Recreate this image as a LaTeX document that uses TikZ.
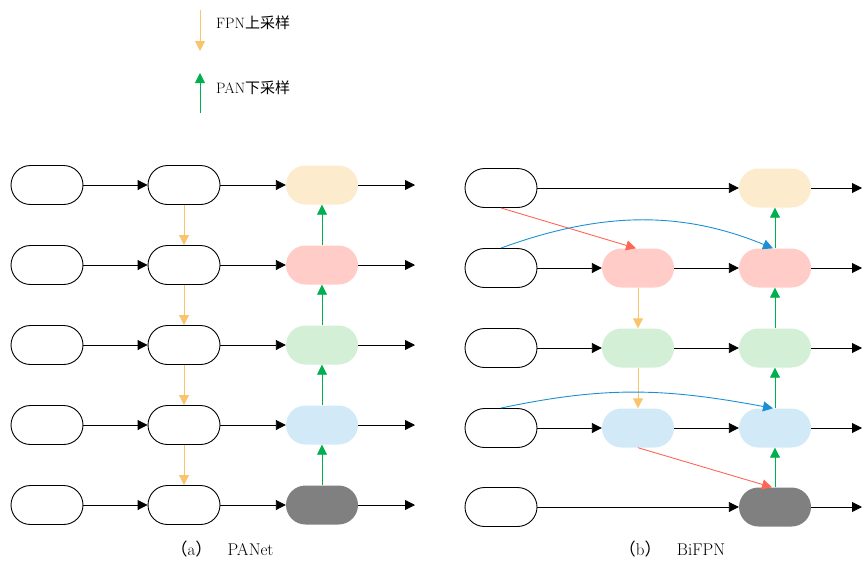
\documentclass[tikz,border=0pt]{standalone}
\usepackage{fontspec}
\newfontfamily\cjk{Noto Sans CJK SC}
\usetikzlibrary{arrows.meta}
\definecolor{cOr}{HTML}{FDEBCD}
\definecolor{cPk}{HTML}{FFCCC7}
\definecolor{cGn}{HTML}{D3EFD5}
\definecolor{cBl}{HTML}{D2EAF7}
\definecolor{cGy}{HTML}{808080}
\definecolor{aOr}{HTML}{F9C46B}
\definecolor{aGn}{HTML}{00B050}
\definecolor{aRd}{HTML}{FF6655}
\definecolor{aBl}{HTML}{1C8FD4}
\tikzset{
  box/.style={rectangle, rounded corners=19.5pt, minimum width=72pt, minimum height=39pt, inner sep=0pt},
  plain/.style={box, draw=black, line width=0.9pt, fill=white},
  feat/.style={box, fill=#1},
  blk/.style={-{Triangle[length=10pt,width=10pt]}, line width=0.9pt, black},
  fpn/.style={-{Triangle[length=10pt,width=10pt]}, line width=0.9pt, aOr},
  pan/.style={-{Triangle[length=10pt,width=10pt]}, line width=0.9pt, aGn},
  red/.style={-{Triangle[length=10pt,width=10pt]}, line width=0.9pt, aRd},
  blu/.style={-{Triangle[length=10pt,width=10pt]}, line width=0.9pt, aBl},
  lbl/.style={anchor=west, inner sep=0pt, font=\fontsize{15}{17}\selectfont},
  captxt/.style={inner sep=0pt, font=\fontsize{17}{19}\selectfont}
}
\begin{document}
\begin{tikzpicture}[x=1pt,y=-1pt]
\useasboundingbox (0,0) rectangle (864,560);
% legend
\coordinate (lo1) at (200,10); \coordinate (lo2) at (200,51);
\coordinate (lg1) at (200,113); \coordinate (lg2) at (200,73);
\draw[fpn] (lo1) -- (lo2);
\draw[pan] (lg1) -- (lg2);
\node[lbl] (tfpn) at (216,23) {FPN{\cjk 上采样}};
\node[lbl] (tpan) at (216,88) {PAN{\cjk 下采样}};
% ---------- PANet ----------
\foreach \i/\y/\c in {1/185/cOr,2/265/cPk,3/345/cGn,4/425/cBl,5/505/cGy}{
  \node[plain] (a\i) at (47,\y) {};
  \node[plain] (b\i) at (184,\y) {};
  \node[feat=\c] (c\i) at (322,\y) {};
  \coordinate (o\i) at (415,\y);
  \draw[blk] (a\i) -- (b\i);
  \draw[blk] (b\i) -- (c\i);
  \draw[blk] (c\i) -- (o\i);
}
\foreach \i/\j in {1/2,2/3,3/4,4/5}{
  \draw[fpn] (b\i.south) -- (b\j.north);
  \draw[pan] (c\j.north) -- (c\i.south);
}
% ---------- BiFPN ----------
\foreach \i/\y/\c in {1/188/cOr,2/268/cPk,3/348/cGn,4/428/cBl,5/507/cGy}{
  \node[plain] (p\i) at (501,\y) {};
  \node[feat=\c] (r\i) at (775,\y) {};
  \coordinate (s\i) at (862,\y);
  \draw[blk] (r\i) -- (s\i);
}
\foreach \i/\y/\c in {2/268/cPk,3/348/cGn,4/428/cBl}{
  \node[feat=\c] (q\i) at (638,\y) {};
  \draw[blk] (p\i) -- (q\i);
  \draw[blk] (q\i) -- (r\i);
}
\draw[blk] (p1) -- (r1);
\draw[blk] (p5) -- (r5);
\draw[fpn] (q2.south) -- (q3.north);
\draw[fpn] (q3.south) -- (q4.north);
\foreach \i/\j in {1/2,2/3,3/4,4/5}{
  \draw[pan] (r\j.north) -- (r\i.south);
}
\draw[red] (p1.south) -- ([xshift=-2pt]q2.north);
\draw[red] (q4.south) -- ([xshift=-3pt]r5.north);
\draw[blu] (p2.north) .. controls (600,212) and (680,210) .. ([xshift=-2pt]r2.north);
\draw[blu] (p4.north) .. controls (605,386) and (665,388) .. ([xshift=-2pt]r4.north);
% captions
\node[captxt] (capa) at (222,549) {{\cjk （}a{\cjk ）}\hspace{0.9em}PANet};
\node[captxt] (capb) at (672,549) {{\cjk （}b{\cjk ）}\hspace{0.9em}BiFPN};
\end{tikzpicture}
\end{document}
